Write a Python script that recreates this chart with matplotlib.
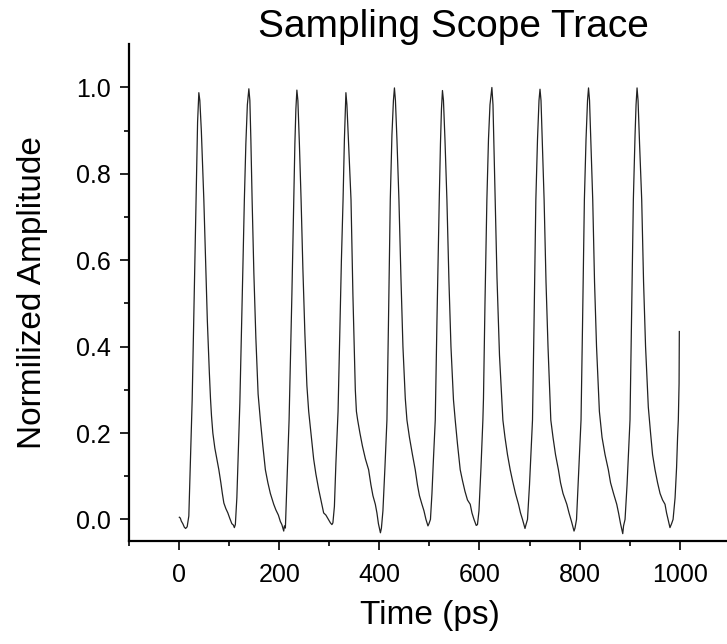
import matplotlib
matplotlib.use("Agg")
import matplotlib.pyplot as plt
from matplotlib.ticker import MultipleLocator, FixedLocator

# sampling scope trace (time in ps, normalized amplitude)
time_ps = [
	0, 2, 4, 7, 10, 12.6, 15.7, 19, 22, 25.7, 29, 33.7, 36.5, 39,
	41, 44, 47, 49, 52, 56, 60, 62.3, 64.3, 67, 71, 75, 79, 83, 86, 89, 93, 97, 101, 105, 108,
	110, 112, 115, 118, 121, 124, 127, 130, 133, 136, 139,
	141, 143, 145.5, 149, 153, 157.5, 162, 167, 172, 177, 182, 188.7, 193, 198, 202, 205,
	208.7, 210, 212, 215, 219.4, 222, 225, 228.7, 231, 233, 235,
	237, 240, 243.4, 247, 251, 255, 258.6, 263, 268.5, 273, 278.5, 283, 288.5, 293, 298, 302,
	305, 307, 310, 313, 317.3, 321, 324, 327.3, 330, 333,
	335, 338, 343.2, 347, 349.5, 351.8, 354, 356.5, 361, 366, 372, 378.4, 383, 387, 391.8, 395, 398,
	402, 404, 407, 411, 415, 418, 421.7, 425, 428, 430,
	432, 435, 439, 443, 447, 451.7, 455, 460, 466, 471.6, 476, 480, 485, 489, 493,
	497, 499, 502, 505, 508, 511.6, 515, 519.6, 522, 524, 526,
	528, 531, 534.9, 539, 543, 548, 551.5, 556, 561.5, 566, 571, 576, 581.5, 585, 589,
	593.5, 596, 599, 603, 606.8, 608, 611, 614.8, 618, 621, 624.8,
	627, 629, 631.4, 635, 640, 644.8, 646.8, 651, 656, 661.4, 666, 672, 678, 682, 686,
	691, 693, 696, 700, 706, 709, 712.7, 716, 719, 721,
	723, 726, 729.2, 733, 737, 741, 742.6, 747, 752, 757.8, 762, 767, 774.6, 779, 784,
	789, 791, 794, 798, 803, 806, 809.7, 813, 816, 818,
	820, 823, 826.4, 830, 834, 839.7, 845, 851, 857.6, 862, 868, 874.4, 878, 882,
	886.4, 888, 891, 895, 900.9, 904, 907.6, 911, 913, 915,
	917, 920, 924.3, 928, 932, 937.5, 942, 946, 950.9, 956, 961, 966, 970.9, 974, 977,
	980.8, 984, 987, 991, 994, 996, 997.5, 999, 999.5,
]
amplitude = [
	0.005, 0.003, -0.004, -0.01, -0.018, -0.021, -0.017, 0.008, 0.13, 0.277, 0.47, 0.74, 0.92, 0.988,
	0.97, 0.9, 0.8, 0.74, 0.62, 0.46, 0.34, 0.28, 0.24, 0.2, 0.165, 0.14, 0.115, 0.085, 0.06, 0.038, 0.025, 0.015, 0.002, -0.01, -0.013,
	-0.019, -0.012, 0.05, 0.16, 0.27, 0.42, 0.58, 0.74, 0.87, 0.96, 0.997,
	0.97, 0.88, 0.74, 0.57, 0.42, 0.29, 0.23, 0.17, 0.115, 0.085, 0.06, 0.035, 0.022, 0.01, -0.005, -0.012,
	-0.027, -0.015, -0.02, 0.08, 0.23, 0.36, 0.52, 0.74, 0.87, 0.95, 0.994,
	0.97, 0.87, 0.74, 0.58, 0.43, 0.31, 0.25, 0.2, 0.14, 0.105, 0.07, 0.045, 0.015, 0.01, 0.0, -0.008,
	-0.012, -0.008, 0.03, 0.13, 0.25, 0.44, 0.6, 0.74, 0.88, 0.988,
	0.96, 0.88, 0.74, 0.52, 0.4, 0.3, 0.25, 0.23, 0.2, 0.17, 0.14, 0.115, 0.08, 0.055, 0.035, 0.015, -0.01,
	-0.031, -0.02, 0.02, 0.12, 0.23, 0.45, 0.74, 0.89, 0.97, 0.999,
	0.97, 0.88, 0.74, 0.56, 0.4, 0.28, 0.23, 0.19, 0.15, 0.115, 0.08, 0.055, 0.035, 0.02, 0.0,
	-0.015, -0.01, 0.0, 0.06, 0.14, 0.23, 0.46, 0.74, 0.87, 0.95, 0.993,
	0.97, 0.88, 0.74, 0.55, 0.4, 0.277, 0.23, 0.175, 0.115, 0.09, 0.065, 0.045, 0.035, 0.015, 0.0,
	-0.014, -0.012, 0.02, 0.12, 0.23, 0.28, 0.5, 0.74, 0.88, 0.96, 1.0,
	0.96, 0.86, 0.74, 0.56, 0.38, 0.277, 0.23, 0.19, 0.15, 0.115, 0.09, 0.06, 0.035, 0.015, 0.0,
	-0.021, -0.012, 0.0, 0.08, 0.23, 0.45, 0.74, 0.88, 0.97, 0.996,
	0.97, 0.86, 0.74, 0.55, 0.4, 0.277, 0.23, 0.19, 0.15, 0.115, 0.085, 0.06, 0.035, 0.015, -0.005,
	-0.027, -0.02, 0.0, 0.1, 0.23, 0.45, 0.74, 0.88, 0.97, 0.999,
	0.97, 0.86, 0.74, 0.55, 0.4, 0.25, 0.19, 0.15, 0.115, 0.085, 0.06, 0.035, 0.015, -0.01,
	-0.033, -0.015, 0.0, 0.08, 0.23, 0.47, 0.74, 0.89, 0.96, 0.999,
	0.97, 0.87, 0.74, 0.55, 0.4, 0.26, 0.2, 0.15, 0.115, 0.085, 0.06, 0.045, 0.035, 0.015, 0.0,
	-0.019, -0.01, 0.0, 0.05, 0.12, 0.19, 0.23, 0.315, 0.435,
]

x_major = [0, 200, 400, 600, 800, 1000]
y_major = [0.0, 0.2, 0.4, 0.6, 0.8, 1.0]
y_minor = [0.1, 0.3, 0.5, 0.7, 0.9]

plt.rcParams['font.family'] = ['Liberation Sans', 'DejaVu Sans']

fig = plt.figure(figsize=(7.27, 6.44), dpi=100)
ax = fig.add_axes([129.3/727, 103/644, 600.3/727, 496.7/644])

ax.plot(time_ps, amplitude, color='#222222', lw=0.9)

ax.set_xlim(-100, 1100)
ax.set_ylim(-0.05, 1.1)

# Origin style axes: only left and bottom, ticks outward
for side in ['top', 'right']:
	ax.spines[side].set_visible(False)
for side in ['left', 'bottom']:
	ax.spines[side].set_linewidth(1.6)

ax.xaxis.set_major_locator(FixedLocator(x_major))
ax.xaxis.set_minor_locator(MultipleLocator(100))
ax.yaxis.set_major_locator(FixedLocator(y_major))
ax.yaxis.set_minor_locator(FixedLocator(y_minor))
ax.set_yticklabels([f"{v:.1f}" for v in y_major])

ax.tick_params(which='major', direction='out', length=6.5, width=1.2, labelsize=18, pad=7)
ax.tick_params(which='minor', direction='out', length=3.5, width=1.2)
ax.tick_params(axis='x', which='major', pad=9)

ax.set_xlabel('Time (ps)', fontsize=24, labelpad=10)
ax.set_ylabel('Normilized Amplitude', fontsize=24, labelpad=20)
fig.text(453/727, 1 - 37/644, 'Sampling Scope Trace', fontsize=28, ha='center', va='baseline')

fig.savefig('out.png', dpi=100)
